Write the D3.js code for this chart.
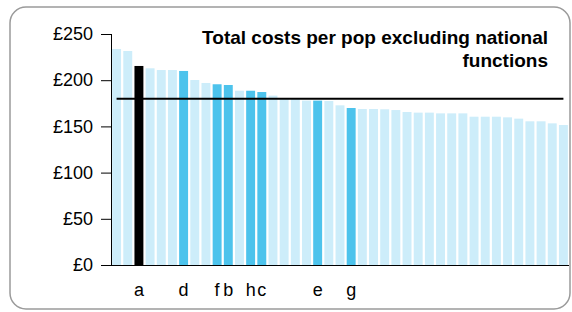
<!DOCTYPE html>
<html>
<head>
<meta charset="utf-8">
<script src="https://cdn.jsdelivr.net/npm/d3@7"></script>
<style>
  body { margin: 0; background: #fff; }
  text { font-family: Arial, "Liberation Sans", sans-serif; }
</style>
</head>
<body>
<svg id="chart"></svg>
<script>
// chart size
var width = 572,
    height = 312;

// bar values, in rank order (pounds per pop)
var costs = [233.8, 231.6, 215.4, 212.9, 211, 211, 210, 200.2, 197, 195.6,
    194.8, 188.6, 188.6, 187.2, 183.3, 180, 180, 177.9, 177.9, 177.5,
    172.8, 169.9, 168.8, 168.8, 168.5, 167.7, 165.6, 164.9, 164.9, 164.1,
    164.1, 164.1, 160.5, 160.5, 160.5, 159.8, 158.4, 155.5, 155.5, 153.3, 151.5];

// label under each bar ("" = no label)
var barLabels = ["", "", "a", "", "", "", "d", "", "", "f",
    "b", "", "h", "c", "", "", "", "", "e", "",
    "", "g", "", "", "", "", "", "", "", "",
    "", "", "", "", "", "", "", "", "", "", ""];

// which bar is the main one (black)
var mainLabel = "a";

// average line
var average = 180;

// y axis ticks
var yTicks = [0, 50, 100, 150, 200, 250];

var titleLines = ["Total costs per pop excluding national", "functions"];

var svg = d3.select("#chart")
    .attr("width", width)
    .attr("height", height);

//rounded frame
svg.append("rect")
    .attr("x", 10)
    .attr("y", 7)
    .attr("width", 560)
    .attr("height", 302)
    .attr("rx", 16)
    .attr("fill", "#fff")
    .attr("stroke", "#9a9a9a")
    .attr("stroke-width", 1.5);

//scales
var x = d3.scaleBand()
    .domain(d3.range(costs.length))
    .range([111, 569])
    .paddingInner(0.2)
    .paddingOuter(0.1);

var y = d3.scaleLinear()
    .domain([0, 250])
    .range([265, 34]);

//bars
svg.append("g")
    .selectAll("rect")
    .data(costs)
    .enter()
    .append("rect")
    .attr("x", function (d, i) { return x(i); })
    .attr("y", function (d) { return y(d); })
    .attr("width", x.bandwidth())
    .attr("height", function (d) { return y(0) - y(d); })
    .attr("fill", function (d, i) {
        if (barLabels[i] == mainLabel) return "#000";
        if (barLabels[i] != "") return "#4dc3ec";
        return "#cdedfa";
    });

//average line from first to last bar centre
svg.append("line")
    .attr("x1", x(0) + x.bandwidth() / 2)
    .attr("x2", x(costs.length - 1) + x.bandwidth() / 2)
    .attr("y1", y(average))
    .attr("y2", y(average))
    .attr("stroke", "#000")
    .attr("stroke-width", 2);

//y axis
var yAxis = svg.append("g")
    .attr("transform", "translate(111,0)")
    .call(d3.axisLeft(y)
        .tickValues(yTicks)
        .tickSize(10)
        .tickPadding(8)
        .tickFormat(function (d) { return "£" + d; }));
yAxis.selectAll("text")
    .style("font-size", "18px")
    .attr("fill", "#000");
yAxis.selectAll("line, path").attr("stroke", "#000");
yAxis.select(".domain").attr("d", "M0.5," + y(250) + "V" + y(0));

//x axis with labels only on highlighted bars
var xAxis = svg.append("g")
    .attr("transform", "translate(0," + y(0) + ")")
    .call(d3.axisBottom(x)
        .tickSize(0)
        .tickPadding(18)
        .tickFormat(function (i) { return barLabels[i]; }));
xAxis.selectAll("text")
    .style("font-size", "18px")
    .attr("fill", "#000");
xAxis.select(".domain")
    .attr("stroke", "#000")
    .attr("d", "M111,0.5H569");

//title
svg.append("g")
    .selectAll("text")
    .data(titleLines)
    .enter()
    .append("text")
    .attr("x", 548)
    .attr("y", function (d, i) { return 44 + i * 23; })
    .attr("text-anchor", "end")
    .style("font-size", "19px")
    .style("font-weight", "bold")
    .text(function (d) { return d; });
</script>
</body>
</html>
